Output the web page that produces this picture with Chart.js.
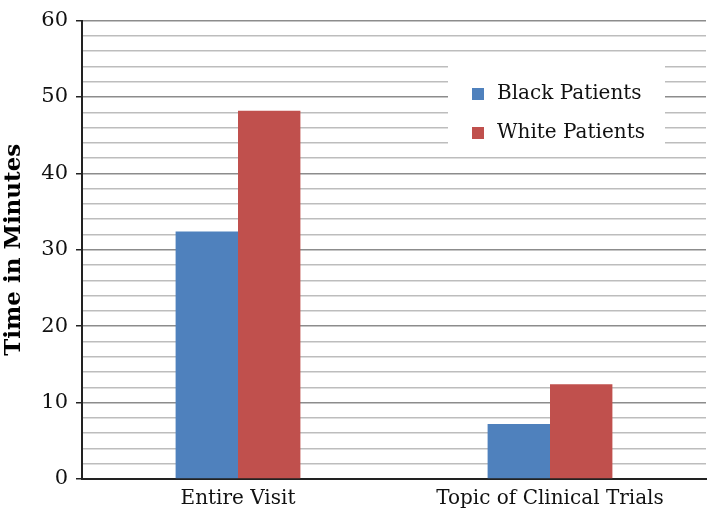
<!DOCTYPE html>
<html>
<head>
<meta charset="utf-8">
<script src="https://cdn.jsdelivr.net/npm/chart.js@4/dist/chart.umd.min.js"></script>
<style>
  html, body { margin: 0; padding: 0; background: #fff; }
  #wrap { width: 709px; height: 516px; position: relative; }
</style>
</head>
<body>
<div id="wrap"><canvas id="c" width="709" height="516"></canvas></div>
<script>
const categories = ["Entire Visit", "Topic of Clinical Trials"];
const seriesNames = ["Black Patients", "White Patients"];
const blackValues = [32.4, 7.2];
const whiteValues = [48.2, 12.4];
const yTickValues = [0, 10, 20, 30, 40, 50, 60];
const colors = ["#4F81BD", "#C0504D"];

const SERIF = "'DejaVu Serif', 'Liberation Serif', serif";

const legendPlugin = {
  id: 'boxLegend',
  afterDraw(chart) {
    const ctx = chart.ctx;
    const x0 = 448, y0 = 66, w = 217, h = 90;
    ctx.save();
    ctx.fillStyle = '#ffffff';
    ctx.fillRect(x0, y0, w, h);
    ctx.font = "20px " + SERIF;
    ctx.textBaseline = 'middle';
    chart.data.datasets.forEach((ds, i) => {
      const cy = 94 + i * 39;
      ctx.fillStyle = ds.backgroundColor;
      ctx.fillRect(472, cy - 6, 12, 12);
      ctx.fillStyle = '#111';
      ctx.fillText(ds.label, 497, cy);
    });
    ctx.restore();
  }
};

new Chart(document.getElementById('c'), {
  type: 'bar',
  data: {
    labels: categories,
    datasets: [
      { label: seriesNames[0], data: blackValues, backgroundColor: colors[0] },
      { label: seriesNames[1], data: whiteValues, backgroundColor: colors[1] }
    ]
  },
  options: {
    responsive: false,
    animation: false,
    layout: { padding: { top: 10, right: 3, left: 0, bottom: 0 } },
    plugins: { legend: { display: false }, tooltip: { enabled: false } },
    datasets: { bar: { categoryPercentage: 0.4, barPercentage: 1.0 } },
    scales: {
      x: {
        grid: { display: false, drawTicks: false },
        border: { display: true, color: '#222', width: 2 },
        ticks: { color: '#111', font: { family: SERIF, size: 20 }, padding: 8 },
        afterFit(s) { s.height = 37; }
      },
      y: {
        min: 0, max: 60,
        afterBuildTicks(s) {
          const t = [];
          for (let v = 0; v <= 60; v += 2) t.push({ value: v });
          s.ticks = t;
        },
        ticks: {
          autoSkip: false,
          color: '#111',
          font: { family: SERIF, size: 21 },
          padding: 8,
          callback: (v) => yTickValues.includes(v) ? String(v) : ''
        },
        grid: {
          color: (c) => (c.tick && c.tick.value % 10 === 0) ? '#8c8c8c' : '#bdbdbd',
          lineWidth: 1.5,
          tickColor: (c) => (c.tick && c.tick.value % 10 === 0) ? '#222' : 'rgba(0,0,0,0)',
          tickLength: 6,
          drawTicks: true
        },
        border: { display: true, color: '#222', width: 2 },
        title: {
          display: true,
          text: 'Time in Minutes',
          color: '#000',
          font: { family: SERIF, size: 23, weight: 'bold' },
          padding: { top: 0, bottom: 0 }
        },
        afterFit(s) { s.width = 82; }
      }
    }
  },
  plugins: [legendPlugin]
});
</script>
</body>
</html>
